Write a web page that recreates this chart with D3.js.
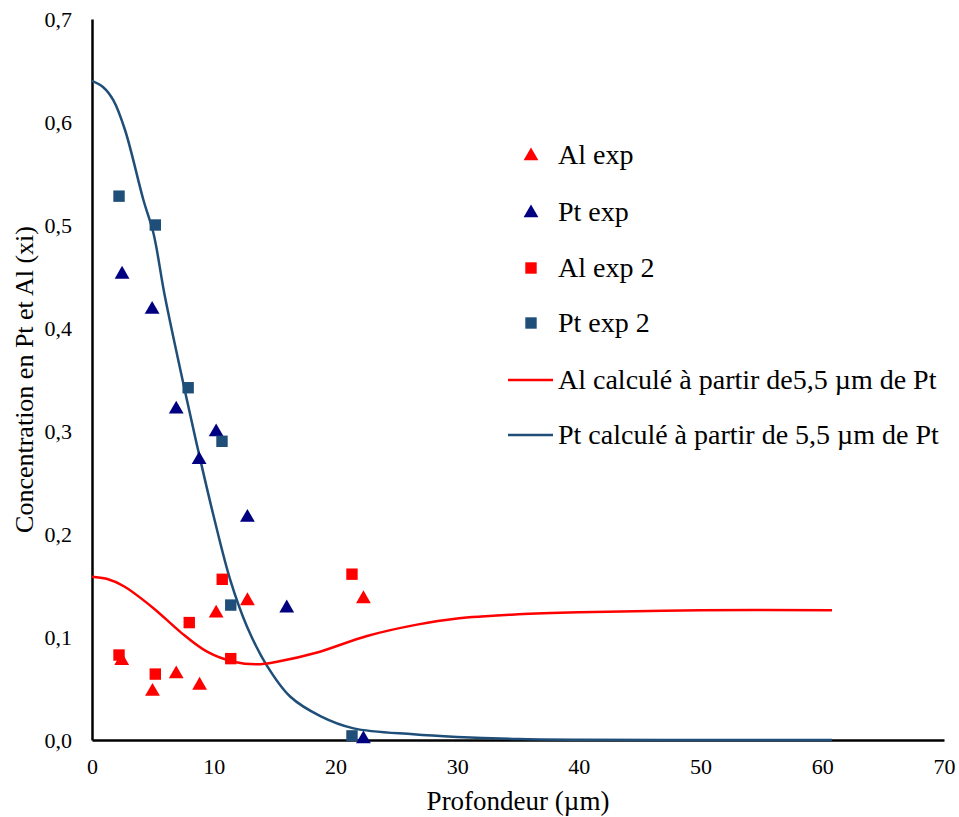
<!DOCTYPE html>
<html>
<head>
<meta charset="utf-8">
<script src="https://cdn.jsdelivr.net/npm/d3@7"></script>
<style>
  html, body { margin: 0; padding: 0; background: #fff; }
  svg { display: block; }
  svg text { font-family: "Liberation Serif", Tinos, "Times New Roman", "DejaVu Serif", serif !important; fill: #000; }
</style>
</head>
<body>
<svg id="chart" width="959" height="817"></svg>
<script>
// ---- Data ----
const alExpX = [2.44, 4.97, 6.92, 8.84, 10.2, 12.77, 22.3];
const alExpY = [0.078, 0.048, 0.065, 0.054, 0.124, 0.136, 0.138];

const ptExpX = [2.47, 4.94, 6.92, 8.8, 10.2, 12.77, 16.0, 22.3];
const ptExpY = [0.453, 0.419, 0.322, 0.273, 0.300, 0.217, 0.129, 0.002];

const alExp2X = [2.22, 5.2, 7.99, 10.7, 11.4, 21.36];
const alExp2Y = [0.0825, 0.064, 0.114, 0.156, 0.079, 0.161];

const ptExp2X = [2.22, 5.2, 7.9, 10.68, 11.4, 21.36];
const ptExp2Y = [0.528, 0.500, 0.342, 0.290, 0.131, 0.004];

const alCalcX = [0, 1.2, 2.58, 5.05, 7.25, 9.45, 11.64, 13.56, 15.2, 18.5, 22.6, 26.7, 30, 35, 40, 50, 60.8];
const alCalcY = [0.1586, 0.1565, 0.1495, 0.128, 0.105, 0.0858, 0.076, 0.0735, 0.076, 0.085, 0.101, 0.112, 0.118, 0.122, 0.124, 0.126, 0.126];

const ptCalcX = [0, 0.9, 1.76, 2.72, 4.23, 5.05, 6.0, 7.8, 8.9, 10.0, 11.37, 12.74, 14.33, 16.3, 18.8, 21.5, 26.4, 30, 35, 40, 50, 60.8];
const ptCalcY = [0.64, 0.634, 0.621, 0.592, 0.524, 0.492, 0.430, 0.330, 0.272, 0.217, 0.155, 0.110, 0.073, 0.042, 0.023, 0.0113, 0.0055, 0.003, 0.001, 0.0003, 0, 0];

const xTicks = [0, 10, 20, 30, 40, 50, 60, 70];
const yTicks = [0, 0.1, 0.2, 0.3, 0.4, 0.5, 0.6, 0.7];
const yTickLabels = ["0,0", "0,1", "0,2", "0,3", "0,4", "0,5", "0,6", "0,7"];

const legendLabels = ["Al exp", "Pt exp", "Al exp 2", "Pt exp 2",
  "Al calculé à partir de5,5 µm de Pt", "Pt calculé à partir de 5,5 µm de Pt"];

const xTitle = "Profondeur (µm)";
const yTitle = "Concentration en Pt et Al (xi)";

// ---- Styles ----
const RED = "#ff0000";
const NAVY = "#000080";
const BLUE = "#1f4e79";

const svg = d3.select("#chart");
const mLeft = 92, mRight = 944, mTop = 19, mBottom = 740;

const x = d3.scaleLinear().domain([0, 70]).range([mLeft, mRight]);
const y = d3.scaleLinear().domain([0, 0.7]).range([mBottom, mTop]);

// Axes
const xAxis = d3.axisBottom(x).tickValues(xTicks).tickSize(0).tickPadding(18).tickFormat(d3.format("d"));
const gx = svg.append("g").attr("transform", `translate(0,${mBottom})`).call(xAxis);
gx.attr("font-family", null);
gx.select(".domain").attr("stroke", "#000").attr("stroke-width", 2.5);
gx.selectAll("text").attr("font-size", 22).attr("fill", "#000");

const yAxis = d3.axisLeft(y).tickValues(yTicks).tickSize(0).tickPadding(20)
  .tickFormat((d, i) => yTickLabels[i]);
const gy = svg.append("g").attr("transform", `translate(${mLeft},0)`).call(yAxis);
gy.attr("font-family", null);
gy.select(".domain").attr("stroke", "#000").attr("stroke-width", 2.5);
gy.selectAll("text").attr("font-size", 22).attr("fill", "#000");

// Titles
svg.append("text").attr("x", (mLeft + mRight) / 2).attr("y", 810)
  .attr("text-anchor", "middle").attr("font-size", 27).text(xTitle);
svg.append("text").attr("transform", `translate(33,${(mTop + mBottom) / 2}) rotate(-90)`)
  .attr("text-anchor", "middle").attr("font-size", 26).text(yTitle);

// Lines
const line = d3.line().x(d => x(d[0])).y(d => y(d[1])).curve(d3.curveCatmullRom.alpha(0.5));
svg.append("path").datum(d3.zip(ptCalcX, ptCalcY))
  .attr("d", line).attr("fill", "none").attr("stroke", BLUE).attr("stroke-width", 2.5);
svg.append("path").datum(d3.zip(alCalcX, alCalcY))
  .attr("d", line).attr("fill", "none").attr("stroke", RED).attr("stroke-width", 2.5);

// Markers
const tri = d3.symbol().type(d3.symbolTriangle).size(95);
const sq = d3.symbol().type(d3.symbolSquare).size(130);

function drawPoints(xs, ys, gen, color, dy) {
  svg.append("g").selectAll("path").data(d3.zip(xs, ys)).join("path")
    .attr("d", gen)
    .attr("transform", d => `translate(${x(d[0])},${y(d[1]) + dy})`)
    .attr("fill", color);
}
drawPoints(alExpX, alExpY, tri, RED, 1);
drawPoints(ptExpX, ptExpY, tri, NAVY, 1);
drawPoints(alExp2X, alExp2Y, sq, RED, 0);
drawPoints(ptExp2X, ptExp2Y, sq, BLUE, 0);

// Legend
const legY = [155, 212, 268, 323, 380, 435];
const leg = svg.append("g");
const markers = [[tri, RED], [tri, NAVY], [sq, RED], [sq, BLUE]];
markers.forEach((m, i) => {
  leg.append("path").attr("d", m[0]).attr("fill", m[1])
    .attr("transform", `translate(531,${legY[i] + (m[0] === tri ? 1 : 0)})`);
});
leg.append("line").attr("x1", 508).attr("x2", 553).attr("y1", legY[4]).attr("y2", legY[4])
  .attr("stroke", RED).attr("stroke-width", 2.5);
leg.append("line").attr("x1", 508).attr("x2", 553).attr("y1", legY[5]).attr("y2", legY[5])
  .attr("stroke", BLUE).attr("stroke-width", 2.5);
legendLabels.forEach((t, i) => {
  leg.append("text").attr("x", 558).attr("y", legY[i]).attr("dy", "0.33em")
    .attr("font-size", 28).text(t);
});
</script>
</body>
</html>
